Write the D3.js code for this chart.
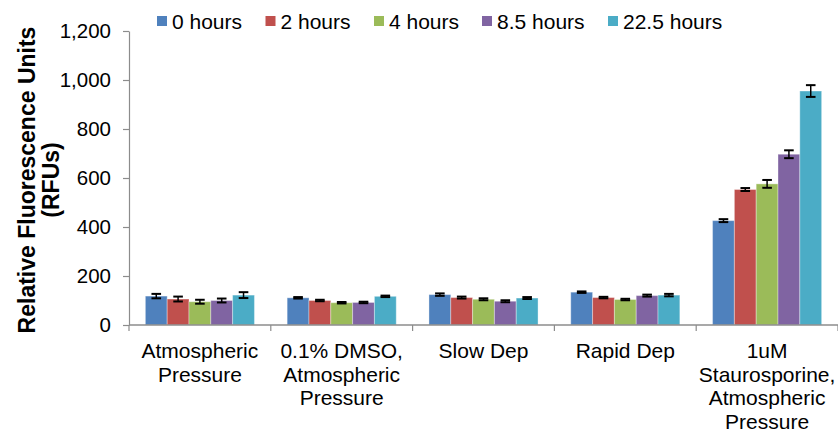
<!DOCTYPE html>
<html>
<head>
<meta charset="utf-8">
<script src="https://cdn.jsdelivr.net/npm/d3@7"></script>
<style>
  html, body { margin: 0; padding: 0; background: #fff; }
  svg { display: block; font-family: "Liberation Sans", Arial, Helvetica, sans-serif; }
</style>
</head>
<body>
<svg id="chart" width="838" height="434"></svg>
<script>
// Treatment groups (multi-line labels)
const categories = [
  ["Atmospheric", "Pressure"],
  ["0.1% DMSO,", "Atmospheric", "Pressure"],
  ["Slow Dep"],
  ["Rapid Dep"],
  ["1uM", "Staurosporine,", "Atmospheric", "Pressure"]
];
const seriesNames = ["0 hours", "2 hours", "4 hours", "8.5 hours", "22.5 hours"];
const seriesColors = ["#4F81BD", "#C0504D", "#9BBB59", "#8064A2", "#4BACC6"];

// Mean RFU per time point, one array per treatment group
const atmospheric    = [118, 106, 95, 100, 122];
const dmso           = [111, 100, 91, 92, 117];
const slowDep        = [124, 112, 105, 97, 110];
const rapidDep       = [134, 112, 104, 120, 122];
const staurosporine  = [426, 553, 576, 697, 955];

// Standard error per time point
const atmosphericErr   = [9, 10, 8, 8, 12];
const dmsoErr          = [3, 3, 3, 3, 3];
const slowDepErr       = [5, 4, 4, 4, 4];
const rapidDepErr      = [3, 3, 3, 4, 5];
const staurosporineErr = [6, 6, 16, 16, 24];

const yTicks = [0, 200, 400, 600, 800, 1000, 1200];

const values = [atmospheric, dmso, slowDep, rapidDep, staurosporine];
const errors = [atmosphericErr, dmsoErr, slowDepErr, rapidDepErr, staurosporineErr];

const svg = d3.select("#chart");
const margin = { left: 129, right: 0, top: 31, bottom: 109 };
const W = 838, H = 434;

const x0 = d3.scaleBand()
  .domain(d3.range(categories.length))
  .range([margin.left, W - margin.right])
  .paddingInner(0).paddingOuter(0);

// Gap width 150%: each bar is category / (5 + 1.5)
const barW = x0.bandwidth() / (seriesNames.length + 1.5);
const offset = (x0.bandwidth() - barW * seriesNames.length) / 2;
const x1 = d3.scaleBand()
  .domain(d3.range(seriesNames.length))
  .range([offset, offset + barW * seriesNames.length])
  .padding(0);

const y = d3.scaleLinear().domain([0, 1200]).range([H - margin.bottom, margin.top]);

const axisColor = "#8c8c8c";
const fontFamily = "Liberation Sans, Arial, sans-serif";

// Bars
const groups = svg.append("g").selectAll("g")
  .data(values)
  .join("g")
  .attr("transform", (d, i) => `translate(${x0(i)},0)`);

groups.selectAll("rect")
  .data(d => d.map((v, j) => ({ v, j })))
  .join("rect")
  .attr("x", d => x1(d.j))
  .attr("width", x1.bandwidth())
  .attr("y", d => y(d.v))
  .attr("height", d => y(0) - y(d.v))
  .attr("fill", d => seriesColors[d.j])
  .attr("stroke", "#ffffff")
  .attr("stroke-opacity", 0.35)
  .attr("stroke-width", 1);

// Error bars
groups.each(function (d, i) {
  const g = d3.select(this);
  d.forEach((v, j) => {
    const cx = x1(j) + x1.bandwidth() / 2;
    const e = errors[i][j];
    const cap = x1.bandwidth() * 0.22;
    g.append("line")
      .attr("x1", cx).attr("x2", cx)
      .attr("y1", y(v - e)).attr("y2", y(v + e))
      .attr("stroke", "#000").attr("stroke-width", 1.5);
    [v - e, v + e].forEach(t => {
      g.append("line")
        .attr("x1", cx - cap).attr("x2", cx + cap)
        .attr("y1", y(t)).attr("y2", y(t))
        .attr("stroke", "#000").attr("stroke-width", 2);
    });
  });
});

// Y axis
const yAxis = svg.append("g")
  .attr("transform", `translate(${margin.left},0)`)
  .call(d3.axisLeft(y).tickValues(yTicks).tickFormat(d3.format(",")).tickSize(6).tickSizeOuter(0));
yAxis.select(".domain").attr("stroke", axisColor).attr("stroke-width", 1.2);
yAxis.selectAll(".tick line").attr("stroke", axisColor).attr("stroke-width", 1.2);
yAxis.selectAll(".tick text")
  .attr("x", -18)
  .attr("font-size", 20.5)
  .attr("fill", "#000")
  .attr("font-family", fontFamily);

// X axis line and category boundary ticks
const xAxis = svg.append("g");
xAxis.append("line")
  .attr("x1", margin.left).attr("x2", W)
  .attr("y1", y(0)).attr("y2", y(0))
  .attr("stroke", axisColor).attr("stroke-width", 1.5);
xAxis.selectAll("line.sep")
  .data(d3.range(categories.length + 1))
  .join("line")
  .attr("class", "sep")
  .attr("x1", i => margin.left + i * x0.bandwidth())
  .attr("x2", i => margin.left + i * x0.bandwidth())
  .attr("y1", y(0)).attr("y2", y(0) + 6)
  .attr("stroke", axisColor).attr("stroke-width", 1.2);

// Category labels
xAxis.selectAll("text.cat")
  .data(categories)
  .join("text")
  .attr("class", "cat")
  .attr("text-anchor", "middle")
  .attr("font-size", 21)
  .attr("fill", "#000")
  .each(function (lines, i) {
    const t = d3.select(this);
    lines.forEach((ln, k) => {
      t.append("tspan")
        .attr("x", x0(i) + x0.bandwidth() / 2)
        .attr("y", 358 + k * 23.6)
        .text(ln);
    });
  });

// Y axis title
svg.append("text")
  .attr("transform", "translate(35,180) rotate(-90)")
  .attr("text-anchor", "middle")
  .attr("font-size", 23)
  .attr("font-weight", "bold")
  .attr("fill", "#000")
  .text("Relative Fluorescence Units");
svg.append("text")
  .attr("transform", "translate(59,180) rotate(-90)")
  .attr("text-anchor", "middle")
  .attr("font-size", 23)
  .attr("font-weight", "bold")
  .attr("fill", "#000")
  .text("(RFUs)");

// Legend
const legendX = [157, 265.5, 374, 482, 608];
const legend = svg.append("g").selectAll("g")
  .data(seriesNames)
  .join("g")
  .attr("transform", (d, i) => `translate(${legendX[i]},0)`);
legend.append("rect")
  .attr("x", 0).attr("y", 16)
  .attr("width", 10).attr("height", 10)
  .attr("fill", (d, i) => seriesColors[i]);
legend.append("text")
  .attr("x", 15).attr("y", 29)
  .attr("font-size", 21)
  .attr("fill", "#000")
  .text(d => d);
</script>
</body>
</html>
